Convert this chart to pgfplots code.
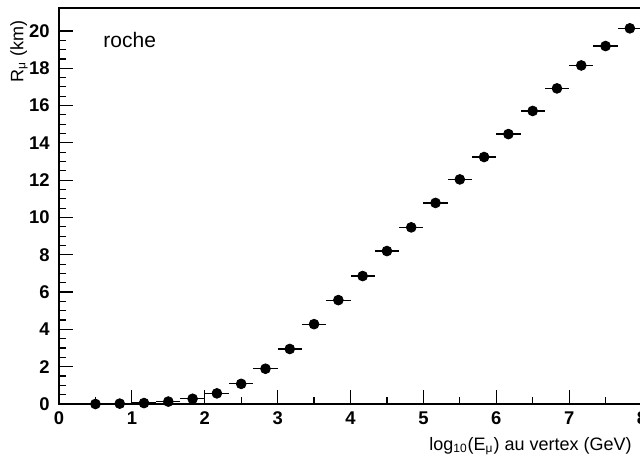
\documentclass[border=0pt]{standalone}
\usepackage{fontspec}
\setmainfont{Liberation Sans}
\usepackage{pgfplots}
\usepackage{pgfplotstable}
\pgfplotsset{compat=1.18}
\pgfplotstableread{
x y ex
0.5 0.0 0.16667
0.83333 0.02 0.16667
1.16667 0.05 0.16667
1.5 0.13 0.16667
1.83333 0.28 0.16667
2.16667 0.57 0.16667
2.5 1.08 0.16667
2.83333 1.89 0.16667
3.16667 2.95 0.16667
3.5 4.28 0.16667
3.83333 5.57 0.16667
4.16667 6.86 0.16667
4.5 8.20 0.16667
4.83333 9.47 0.16667
5.16667 10.78 0.16667
5.5 12.04 0.16667
5.83333 13.24 0.16667
6.16667 14.47 0.16667
6.5 15.71 0.16667
6.83333 16.92 0.16667
7.16667 18.15 0.16667
7.5 19.19 0.16667
7.83333 20.14 0.16667
}\datatable
\begin{document}
\begin{tikzpicture}[x=1pt,y=1pt]
\path[use as bounding box] (-29.5,-27.5) rectangle (290.5,202);
\begin{axis}[
  at={(0,0)}, anchor=south west,
  scale only axis, width=291.5pt, height=198pt,
  xmin=0, xmax=8, ymin=0, ymax=21.23,
  clip=false,
  axis line style={black, line width=0.6pt},
  xtick={0,1,...,8}, ytick={0,2,...,20},
  minor x tick num=1, minor y tick num=3,
  tick align=inside, tick pos=left,
  major tick length=7pt, minor tick length=3.5pt,
  tick style={black, line width=0.6pt},
  /pgf/number format/assume math mode=true,
  xticklabel style={font=\bfseries\fontsize{9.2}{10}\selectfont, inner sep=0pt, yshift=-3.5pt},
  yticklabel style={font=\bfseries\fontsize{9.2}{10}\selectfont, inner sep=0pt, xshift=-4.5pt},
  xlabel={log\textsubscript{10}(E\textsubscript{μ}) au vertex (GeV)},
  xlabel style={at={(axis description cs:0.983,-0.118)}, anchor=base east, inner sep=0pt, font=\fontsize{9}{10}\selectfont},
  ylabel={R\textsubscript{μ} (km)},
  ylabel style={at={(axis description cs:-0.0686,0.97)}, anchor=east, inner sep=0pt, font=\fontsize{9}{10}\selectfont},
]
\addplot[only marks, mark=*, mark size=2.45pt, black,
  error bars/.cd, x dir=both, x explicit, error mark=none,
  error bar style={black, line width=0.6pt}]
  table[x=x, y=y, x error=ex] {\datatable};
\node[anchor=base west, inner sep=0pt, font=\fontsize{10.5}{12}\selectfont] at (axis description cs:0.0755,0.9008) {roche};
\end{axis}
\end{tikzpicture}
\end{document}
